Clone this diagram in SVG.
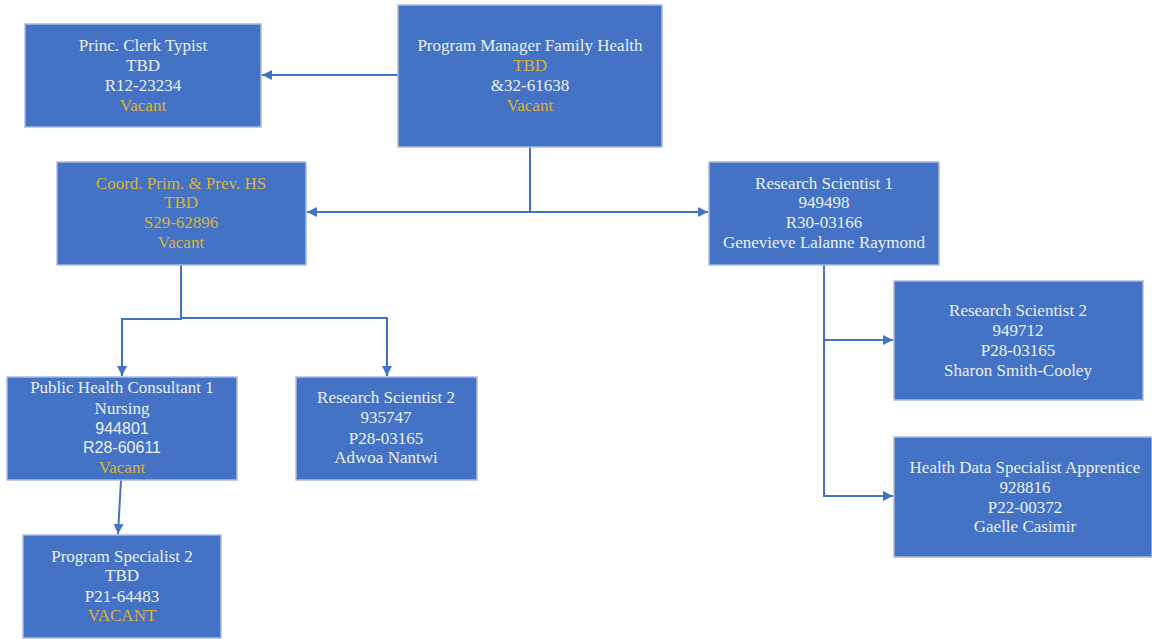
<svg xmlns="http://www.w3.org/2000/svg" width="1152" height="639" viewBox="0 0 1152 639">
<defs>
<marker id="ah" viewBox="0 0 10 10" refX="10" refY="5" markerWidth="10" markerHeight="10" markerUnits="userSpaceOnUse" orient="auto">
<path d="M0,0 L10,5 L0,10 Z" fill="#4472C4"/>
</marker>
<style>
.box{fill:#4472C4;stroke:#A8BCE0;stroke-width:1.5}
.t{font-family:"Liberation Serif","Times New Roman",serif;font-size:17px;fill:#EAF0FA;text-anchor:middle}
.s{font-family:"Liberation Sans",Arial,sans-serif;font-size:16px;fill:#EAF0FA;text-anchor:middle}
.y{fill:#D9B43A}
.c{fill:none;stroke:#4472C4;stroke-width:2}
</style>
</defs>
<rect width="1152" height="639" fill="#FFFFFF"/>
<g id="connectors">
<path class="c" d="M398,75 H262" marker-end="url(#ah)"/>
<path class="c" d="M530,147 V212 H307" marker-end="url(#ah)"/>
<path class="c" d="M530,212 H708" marker-end="url(#ah)"/>
<path class="c" d="M181,265 V319 H122 V376" marker-end="url(#ah)"/>
<path class="c" d="M181,318 H387 V376" marker-end="url(#ah)"/>
<path class="c" d="M824,265 V496 H893" marker-end="url(#ah)"/>
<path class="c" d="M824,340 H893" marker-end="url(#ah)"/>
<path class="c" d="M121,480 L118,534" marker-end="url(#ah)"/>
</g>
<g id="princ-clerk-typist">
<rect class="box" x="25" y="24" width="236" height="103"/>
<text class="t" x="143" y="51">Princ. Clerk Typist</text>
<text class="t" x="143" y="71">TBD</text>
<text class="t" x="143" y="91">R12-23234</text>
<text class="t y" x="143" y="111">Vacant</text>
</g>
<g id="program-manager">
<rect class="box" x="398" y="5" width="264" height="142"/>
<text class="t" x="530" y="51">Program Manager Family Health</text>
<text class="t y" x="530" y="71">TBD</text>
<text class="t" x="530" y="91">&amp;32-61638</text>
<text class="t y" x="530" y="111">Vacant</text>
</g>
<g id="coord">
<rect class="box" x="57" y="162" width="249" height="103"/>
<text class="t y" x="181" y="189">Coord. Prim. &amp; Prev. HS</text>
<text class="t y" x="181" y="208">TBD</text>
<text class="t y" x="181" y="228">S29-62896</text>
<text class="t y" x="181" y="248">Vacant</text>
</g>
<g id="research-scientist-1">
<rect class="box" x="709" y="162" width="230" height="103"/>
<text class="t" x="824" y="189">Research Scientist 1</text>
<text class="t" x="824" y="208">949498</text>
<text class="t" x="824" y="228">R30-03166</text>
<text class="t" x="824" y="248">Genevieve Lalanne Raymond</text>
</g>
<g id="research-scientist-2-right">
<rect class="box" x="894" y="281" width="249" height="119"/>
<text class="t" x="1018" y="316">Research Scientist 2</text>
<text class="t" x="1018" y="336">949712</text>
<text class="t" x="1018" y="356">P28-03165</text>
<text class="t" x="1018" y="376">Sharon Smith-Cooley</text>
</g>
<g id="health-data-specialist">
<rect class="box" x="894" y="437" width="258" height="120"/>
<text class="t" x="1025" y="473">Health Data Specialist Apprentice</text>
<text class="t" x="1025" y="493">928816</text>
<text class="t" x="1025" y="513">P22-00372</text>
<text class="t" x="1025" y="532">Gaelle Casimir</text>
</g>
<g id="public-health-consultant">
<rect class="box" x="7" y="377" width="230" height="103"/>
<text class="t" x="122" y="393">Public Health Consultant 1</text>
<text class="t" x="122" y="414">Nursing</text>
<text class="s" x="122" y="434">944801</text>
<text class="s" x="122" y="453">R28-60611</text>
<text class="t y" x="122" y="473">Vacant</text>
</g>
<g id="research-scientist-2-mid">
<rect class="box" x="296" y="377" width="181" height="103"/>
<text class="t" x="386" y="403">Research Scientist 2</text>
<text class="t" x="386" y="423">935747</text>
<text class="t" x="386" y="444">P28-03165</text>
<text class="t" x="386" y="463">Adwoa Nantwi</text>
</g>
<g id="program-specialist-2">
<rect class="box" x="23" y="535" width="198" height="103"/>
<text class="t" x="122" y="562">Program Specialist 2</text>
<text class="t" x="122" y="581">TBD</text>
<text class="t" x="122" y="602">P21-64483</text>
<text class="t y" x="122" y="621">VACANT</text>
</g>
</svg>
